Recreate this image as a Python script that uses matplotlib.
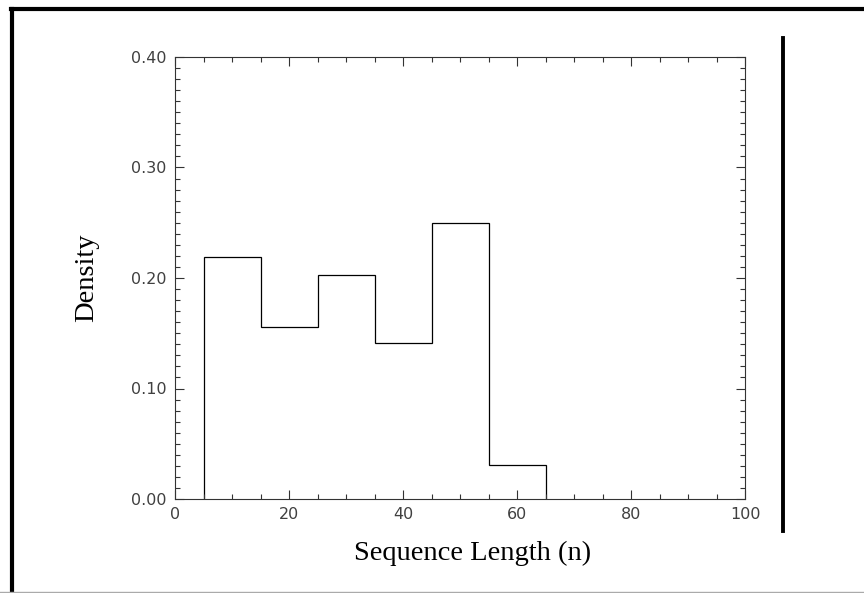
#!/usr/bin/env python3
# -*- coding: utf-8 -*-

import matplotlib
matplotlib.use("Agg")
import matplotlib.pyplot as plt
from matplotlib.lines import Line2D
from matplotlib.ticker import MultipleLocator, FormatStrFormatter

# data
bin_edges = [5, 15, 25, 35, 45, 55, 65]
density = [0.219, 0.156, 0.203, 0.141, 0.250, 0.031]
x_label = "Sequence Length (n)"
y_label = "Density"

plt.rcParams["font.family"] = ["DejaVu Sans"]

W, H = 864, 593
fig = plt.figure(figsize=(W / 100, H / 100), dpi=100)
ax = fig.add_axes([175 / W, 1 - 499 / H, (745 - 175) / W, (499 - 57) / H])

ax.stairs(density, bin_edges, color="black", linewidth=0.9)

ax.set_xlim(0, 100)
ax.set_ylim(0, 0.40)
ax.xaxis.set_major_locator(MultipleLocator(20))
ax.xaxis.set_minor_locator(MultipleLocator(5))
ax.yaxis.set_major_locator(MultipleLocator(0.10))
ax.yaxis.set_minor_locator(MultipleLocator(0.01))
ax.yaxis.set_major_formatter(FormatStrFormatter("%.2f"))

ax.tick_params(which="both", direction="in", top=True, right=True,
               color="#333333", width=0.8)
ax.tick_params(which="major", length=6.5, labelsize=11.5, labelcolor="#404040",
               pad=6)
ax.tick_params(which="minor", length=3.6)
for sp in ax.spines.values():
    sp.set_color("#333333")
    sp.set_linewidth(0.8)

# axis titles
fig.text(87 / W, 1 - 278 / H, y_label, rotation=90, ha="center", va="center",
         family="Liberation Serif", fontsize=20.5)
fig.text(473 / W, 1 - 553 / H, x_label, ha="center", va="center",
         family="Liberation Serif", fontsize=20.5)

# frame lines around the panel
fig.add_artist(Line2D([12 / W, 12 / W], [0, 1 - 9 / H], color="black",
                      linewidth=3, transform=fig.transFigure))
fig.add_artist(Line2D([10.5 / W, 1], [1 - 9.3 / H, 1 - 9.3 / H], color="black",
                      linewidth=3, transform=fig.transFigure))
fig.add_artist(Line2D([0, 1], [1 - 591.5 / H, 1 - 591.5 / H], color="#aaaaaa",
                      linewidth=1, transform=fig.transFigure))
fig.add_artist(Line2D([782.7 / W, 782.7 / W], [1 - 38 / H, 1 - 531 / H],
                      color="black", linewidth=2.8, transform=fig.transFigure))

fig.savefig("out.png", dpi=100)
plt.close(fig)
